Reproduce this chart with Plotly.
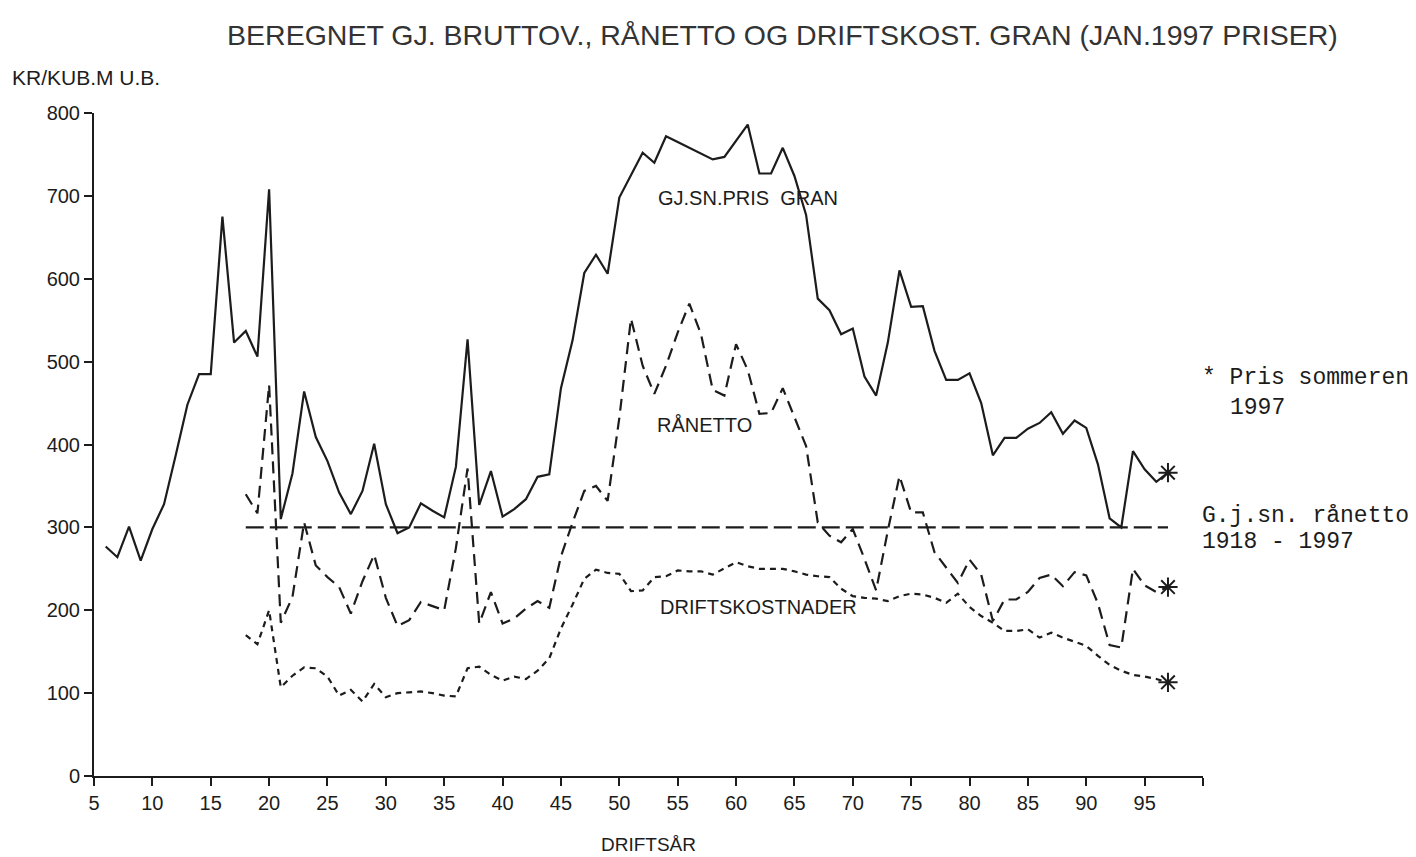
import plotly.graph_objects as go

# ---- data ----
gran_years = list(range(6, 98))
gran_price = [277, 264, 301, 260, 298, 328, 387, 448, 485, 485,
              675, 523, 537, 506, 708, 310, 365, 464, 409, 380,
              342, 316, 344, 401, 328, 293, 300, 329, 320, 312,
              373, 527, 327, 368, 313, 322, 334, 361, 364, 468,
              526, 607, 629, 606, 698, 725, 752, 740, 772, 765,
              758, 751, 744, 747, 766, 786, 727, 727, 758, 724,
              677, 576, 562, 533, 540, 482, 459, 523, 610, 566,
              567, 513, 478, 478, 486, 450, 387, 408, 408, 419,
              426, 439, 413, 429, 420, 376, 311, 300, 392, 370,
              355, 366]

net_years = list(range(18, 98))
ranetto = [340, 317, 472, 185, 216, 306, 254, 240, 228, 196,
           235, 267, 215, 181, 188, 210, 205, 200, 275, 371,
           184, 222, 184, 190, 202, 211, 203, 265, 306, 344,
           350, 332, 432, 552, 495, 461, 495, 535, 570, 533,
           466, 459, 521, 490, 437, 438, 468, 432, 398, 306,
           290, 282, 298, 262, 224, 296, 362, 318, 318, 270,
           252, 233, 261, 243, 187, 213, 213, 222, 239, 243,
           229, 246, 242, 208, 158, 155, 250, 230, 222, 228]

driftskost = [170, 159, 200, 107, 121, 131, 130, 120, 97, 104,
              90, 111, 95, 100, 101, 102, 100, 97, 96, 130,
              132, 122, 115, 120, 117, 127, 142, 178, 207, 238,
              249, 245, 244, 223, 224, 240, 241, 248, 247, 247,
              243, 250, 258, 253, 250, 250, 250, 247, 243, 241,
              240, 226, 217, 215, 214, 211, 217, 220, 219, 215,
              209, 220, 204, 193, 185, 175, 175, 177, 167, 173,
              167, 162, 157, 145, 134, 127, 122, 120, 117, 113]

avg_years = [18, 97]
avg_ranetto = [300, 300]

star_years = [97, 97, 97]
star_values = [366, 228, 113]

x_tickvals = [5, 10, 15, 20, 25, 30, 35, 40, 45, 50, 55, 60, 65, 70, 75, 80, 85, 90, 95, 100]
x_ticktext = ["5", "10", "15", "20", "25", "30", "35", "40", "45", "50", "55", "60",
              "65", "70", "75", "80", "85", "90", "95", ""]
y_tickvals = [0, 100, 200, 300, 400, 500, 600, 700, 800]

INK = "#1c1c1c"
SANS = "Liberation Sans, Arial, sans-serif"
MONO = "Liberation Mono, Courier New, monospace"

fig = go.Figure()
fig.add_trace(go.Scatter(x=gran_years, y=gran_price, mode="lines",
                         line=dict(color=INK, width=2.2), showlegend=False))
fig.add_trace(go.Scatter(x=net_years, y=ranetto, mode="lines",
                         line=dict(color=INK, width=2.2, dash="12px,7px"), showlegend=False))
fig.add_trace(go.Scatter(x=net_years, y=driftskost, mode="lines",
                         line=dict(color=INK, width=2.2, dash="6px,5px"), showlegend=False))
fig.add_trace(go.Scatter(x=avg_years, y=avg_ranetto, mode="lines",
                         line=dict(color=INK, width=2.2, dash="18px,6px"), showlegend=False))
fig.add_trace(go.Scatter(x=star_years, y=star_values, mode="markers",
                         marker=dict(symbol="asterisk", size=16,
                                     line=dict(color=INK, width=2)),
                         showlegend=False))

annotations = [
    dict(text="GJ.SN.PRIS  GRAN", x=61, y=698, xref="x", yref="y",
         showarrow=False, font=dict(family=SANS, size=20, color=INK)),
    dict(text="RÅNETTO", x=57.3, y=423, xref="x", yref="y",
         showarrow=False, font=dict(family=SANS, size=20, color=INK)),
    dict(text="DRIFTSKOSTNADER", x=61.9, y=204, xref="x", yref="y",
         showarrow=False, font=dict(family=SANS, size=20, color=INK)),
    dict(text="KR/KUB.M U.B.", x=-0.0757, y=1.054, xref="paper", yref="paper",
         xanchor="left", yanchor="middle", showarrow=False,
         font=dict(family=SANS, size=21, color=INK)),
    dict(text="DRIFTSÅR", x=0.5, y=-0.104, xref="paper", yref="paper",
         xanchor="center", yanchor="middle", showarrow=False,
         font=dict(family=SANS, size=19, color=INK)),
    dict(text="* Pris sommeren", x=0.9973, y=0.600, xref="paper", yref="paper",
         xanchor="left", yanchor="middle", showarrow=False,
         font=dict(family=MONO, size=23, color=INK)),
    dict(text="1997", x=1.0225, y=0.555, xref="paper", yref="paper",
         xanchor="left", yanchor="middle", showarrow=False,
         font=dict(family=MONO, size=23, color=INK)),
    dict(text="G.j.sn. rånetto", x=0.9973, y=0.392, xref="paper", yref="paper",
         xanchor="left", yanchor="middle", showarrow=False,
         font=dict(family=MONO, size=23, color=INK)),
    dict(text="1918 - 1997", x=0.9973, y=0.353, xref="paper", yref="paper",
         xanchor="left", yanchor="middle", showarrow=False,
         font=dict(family=MONO, size=23, color=INK)),
]

fig.update_layout(
    width=1408, height=849,
    margin=dict(l=86, r=213, t=105, b=81),
    paper_bgcolor="white", plot_bgcolor="white",
    title=dict(text="BEREGNET GJ. BRUTTOV., RÅNETTO OG DRIFTSKOST. GRAN (JAN.1997 PRISER)",
               x=0.550, xanchor="center", y=0.968, yanchor="middle",
               font=dict(family="Liberation Sans Narrow, Arial Narrow, Liberation Sans, sans-serif",
                         size=28.5, color="#333")),
    annotations=annotations,
)
fig.update_xaxes(range=[5, 100], tickvals=x_tickvals, ticktext=x_ticktext,
                 showgrid=False, zeroline=False, showline=True, linecolor=INK, linewidth=2,
                 ticks="outside", ticklen=8, tickwidth=2, tickcolor=INK,
                 tickfont=dict(family=SANS, size=20, color=INK))
fig.update_yaxes(range=[0, 800], tickvals=y_tickvals,
                 showgrid=False, zeroline=False, showline=True, linecolor=INK, linewidth=2,
                 ticks="outside", ticklen=8, tickwidth=2, tickcolor=INK,
                 tickfont=dict(family=SANS, size=20, color=INK))

fig.write_html("out.html")
